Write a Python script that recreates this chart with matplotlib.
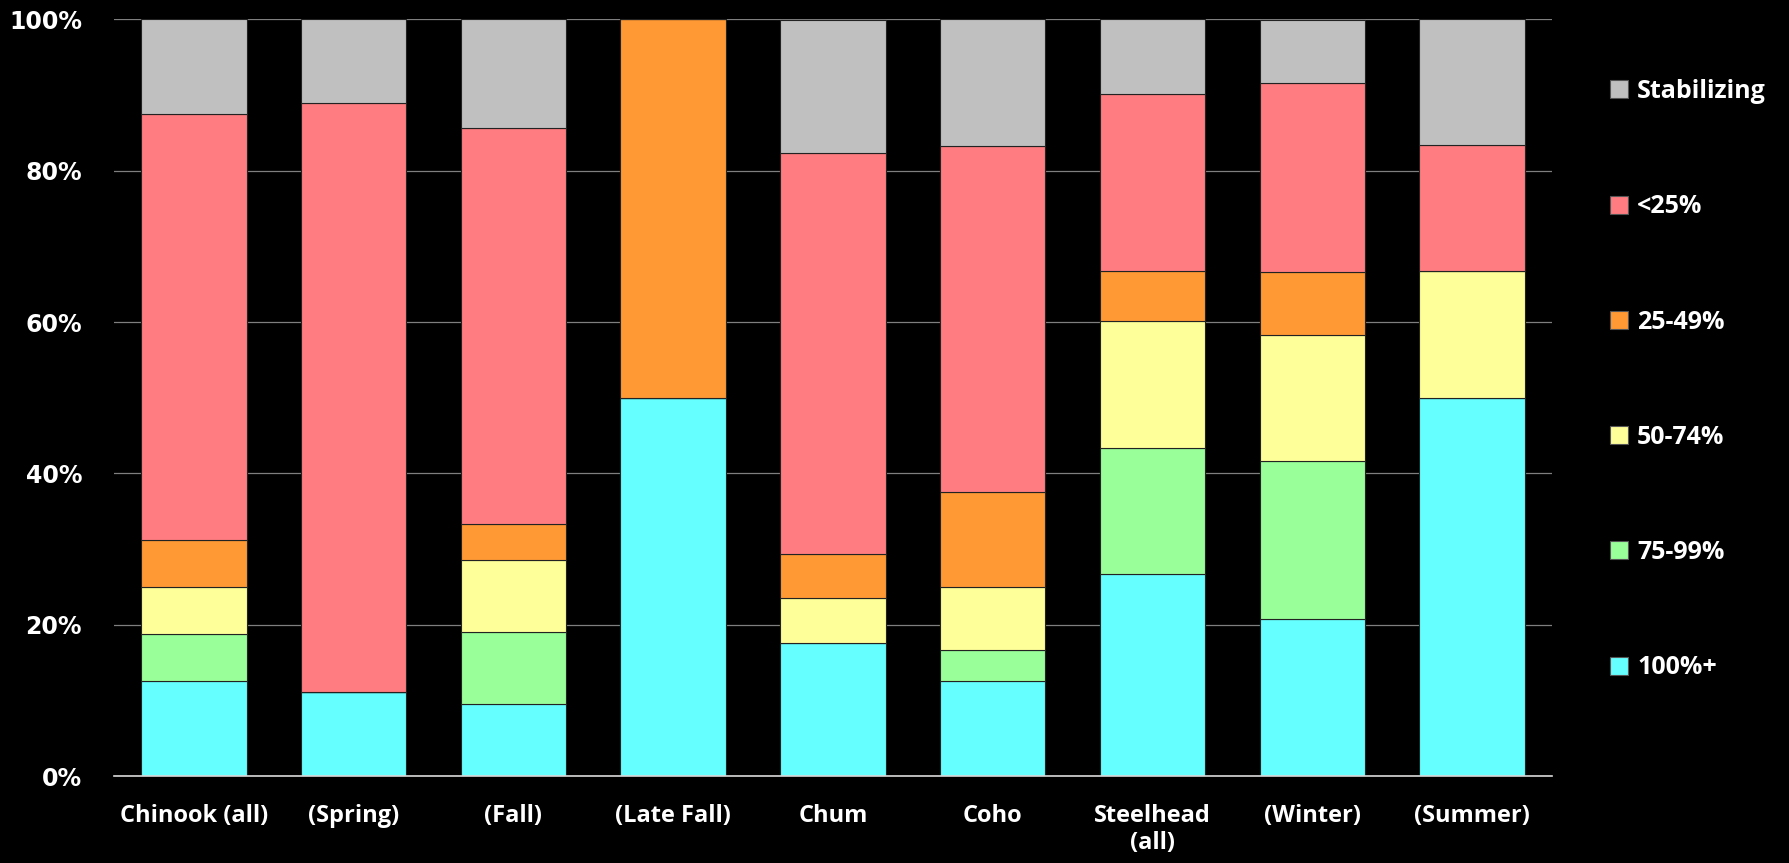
import matplotlib.pyplot as plt
import matplotlib.patches as mpatches
import numpy as np

plt.rcParams["font.family"] = ["Open Sans", "DejaVu Sans"]
plt.rcParams["font.weight"] = "bold"

categories = ["Chinook (all)", "(Spring)", "(Fall)", "(Late Fall)", "Chum",
              "Coho", "Steelhead\n(all)", "(Winter)", "(Summer)"]

# percent of populations in each group (bottom to top)
pct_100 = [12.5, 11.1, 9.5, 50.0, 17.6, 12.5, 26.7, 20.8, 50.0]
pct_75_99 = [6.25, 0.0, 9.5, 0.0, 0.0, 4.2, 16.7, 20.8, 0.0]
pct_50_74 = [6.25, 0.0, 9.5, 0.0, 5.9, 8.3, 16.7, 16.7, 16.7]
pct_25_49 = [6.25, 0.0, 4.8, 50.0, 5.9, 12.5, 6.7, 8.3, 0.0]
pct_lt25 = [56.25, 77.8, 52.4, 0.0, 52.9, 45.8, 23.3, 25.0, 16.7]
pct_stab = [12.5, 11.1, 14.3, 0.0, 17.6, 16.7, 10.0, 8.3, 16.7]

series = [
    ("100%+", pct_100, "#66FFFF"),
    ("75-99%", pct_75_99, "#99FF99"),
    ("50-74%", pct_50_74, "#FFFF99"),
    ("25-49%", pct_25_49, "#FF9933"),
    ("<25%", pct_lt25, "#FF7C80"),
    ("Stabilizing", pct_stab, "#C0C0C0"),
]

fig = plt.figure(figsize=(17.89, 8.63), dpi=100, facecolor="black")
ax = fig.add_axes([0.0637, 0.1008, 0.8038, 0.8767], facecolor="black")

x = np.arange(len(categories))
bottom = np.zeros(len(categories))
handles = []
for name, vals, color in series:
    vals = np.array(vals, dtype=float)
    ax.bar(x, vals, width=0.66, bottom=bottom, color=color,
           edgecolor="#222222", linewidth=0.8, zorder=3)
    bottom += vals
    handles.append(mpatches.Patch(facecolor=color, edgecolor="#555555",
                                  linewidth=0.8, label=name))

ax.set_xlim(-0.5, len(categories) - 0.5)
ax.set_ylim(0, 100)
ax.set_yticks(np.arange(0, 101, 20))
ax.set_yticklabels([f"{v}%" for v in range(0, 101, 20)],
                   family="DejaVu Sans", fontsize=17, fontweight="bold")
ax.set_xticks(x)
ax.set_xticklabels(categories, fontsize=17)
ax.tick_params(axis="both", colors="white", labelcolor="white", length=0)
ax.tick_params(axis="x", pad=20)
ax.tick_params(axis="y", pad=23)
ax.grid(True, axis="y", color="#7f7f7f", linewidth=0.9, zorder=0)
for side in ["top", "right", "left"]:
    ax.spines[side].set_visible(False)
ax.spines["bottom"].set_color("#d9d9d9")
ax.spines["bottom"].set_linewidth(1.2)
ax.spines["bottom"].set_zorder(4)

leg = fig.legend(handles=handles[::-1], loc="center left",
                 bbox_to_anchor=(0.8874, 0.560), frameon=False,
                 fontsize=18, labelspacing=3.61, handlelength=0.72,
                 handleheight=0.72, handletextpad=0.36)
for t in leg.get_texts():
    t.set_color("white")

fig.savefig("out.png", dpi=100, facecolor="black")
